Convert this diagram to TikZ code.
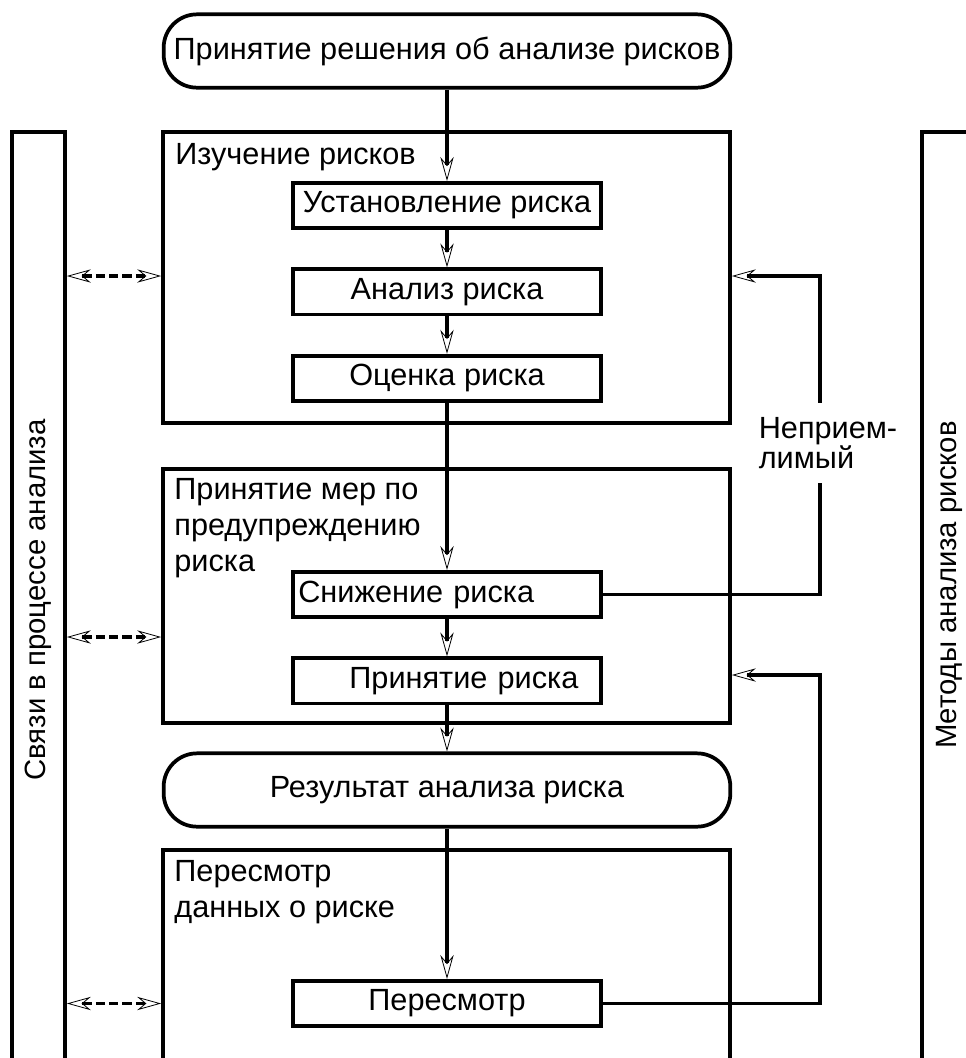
\documentclass[tikz,border=0pt]{standalone}
\usepackage{fontspec}
\setmainfont{Liberation Sans}
\usetikzlibrary{arrows.meta,positioning,fit,calc}

\begin{document}
\begin{tikzpicture}[
  x=0.75pt,y=-0.75pt,
  font=\fontsize{23}{27}\selectfont,
  frame/.style={draw,line width=2.8pt,inner sep=0pt},
  stepbox/.style={draw,line width=2.8pt,minimum width=231pt,minimum height=34pt,inner sep=0pt,align=center},
  term/.style={draw,line width=2.8pt,rounded corners=25pt,minimum width=425pt,minimum height=55pt,inner sep=0pt},
  title/.style={anchor=north west,align=left,inner sep=0pt},
  side/.style={rotate=90,inner sep=0pt,font=\fontsize{22}{26}\selectfont},
  flow/.style={line width=2.8pt,-{Stealth[open,length=18pt,width=10pt,inset=6pt,line width=0.6pt]}},
  link/.style={line width=2.8pt,dash pattern=on 7pt off 3pt,
    {Stealth[open,length=18pt,width=10pt,inset=6pt,line width=0.6pt]}-{Stealth[open,length=18pt,width=10pt,inset=6pt,line width=0.6pt]}}
]
\clip (0,0) rectangle (966,1058);

% side panels
\node[frame,fit={(12,132) (65,1090)}] (ties) {};
\node[frame,fit={(922,132) (976,1090)}] (methods) {};
\node[side] at (38,600) {Связи в процессе анализа};
\node[side] at (949,585) {Методы анализа рисков};

% main column
\node[term] (start) at (447,51) {Принятие решения об анализе рисков};

\node[frame,fit={(163,132) (730,423)}] (study) {};
\node[title] at ($(study.north west)+(14,13)$) {Изучение рисков};
\node[stepbox] (ident) at (447,205.5) {Установление риска};
\node[stepbox,below=28pt of ident] (anal) {Анализ риска};
\node[stepbox,below=28pt of anal] (eval) {Оценка риска};

\node[frame,fit={(163,469) (730,723)}] (measures) {};
\node[title] at ($(measures.north west)+(13,11)$) {Принятие мер по\\предупреждению\\риска};
\node[stepbox,text width=223pt,align=left] (cut) at (447,594.5) {Снижение риска};
\node[stepbox,text width=197pt,align=right,below=28pt of cut] (accept) {Принятие риска};

\node[term] (result) at (447,790) {Результат анализа риска};

\node[frame,fit={(163,850) (730,1090)}] (revision) {};
\node[title] at ($(revision.north west)+(13,12)$) {Пересмотр\\данных о риске};
\node[stepbox] (review) at (447,1003.5) {Пересмотр};

\draw[flow] (start) -- (ident);
\draw[flow] (ident) -- (anal);
\draw[flow] (anal) -- (eval);
\draw[flow] (eval) -- (cut);
\draw[flow] (cut) -- (accept);
\draw[flow] (accept) -- (result);
\draw[flow] (result) -- (review);

% feedback loops
\coordinate (loopA) at (820,276);
\coordinate (loopB) at (820,675);
\draw[flow] (cut.east) -| (loopA) -- (study.east |- loopA);
\draw[flow] (review.east) -| (loopB) -- (measures.east |- loopB);
\node[fill=white,align=left,font=\fontsize{23}{22}\selectfont,inner xsep=2pt,inner ysep=11pt] (unaccept) at (828,443) {Неприем-\\лимый};

% links to the left panel
\coordinate (linkB) at (0,637);
\draw[link] (ties.east |- loopA) -- (study.west |- loopA);
\draw[link] (ties.east |- linkB) -- (measures.west |- linkB);
\draw[link] (ties.east |- review) -- (revision.west |- review);
\end{tikzpicture}
\end{document}
